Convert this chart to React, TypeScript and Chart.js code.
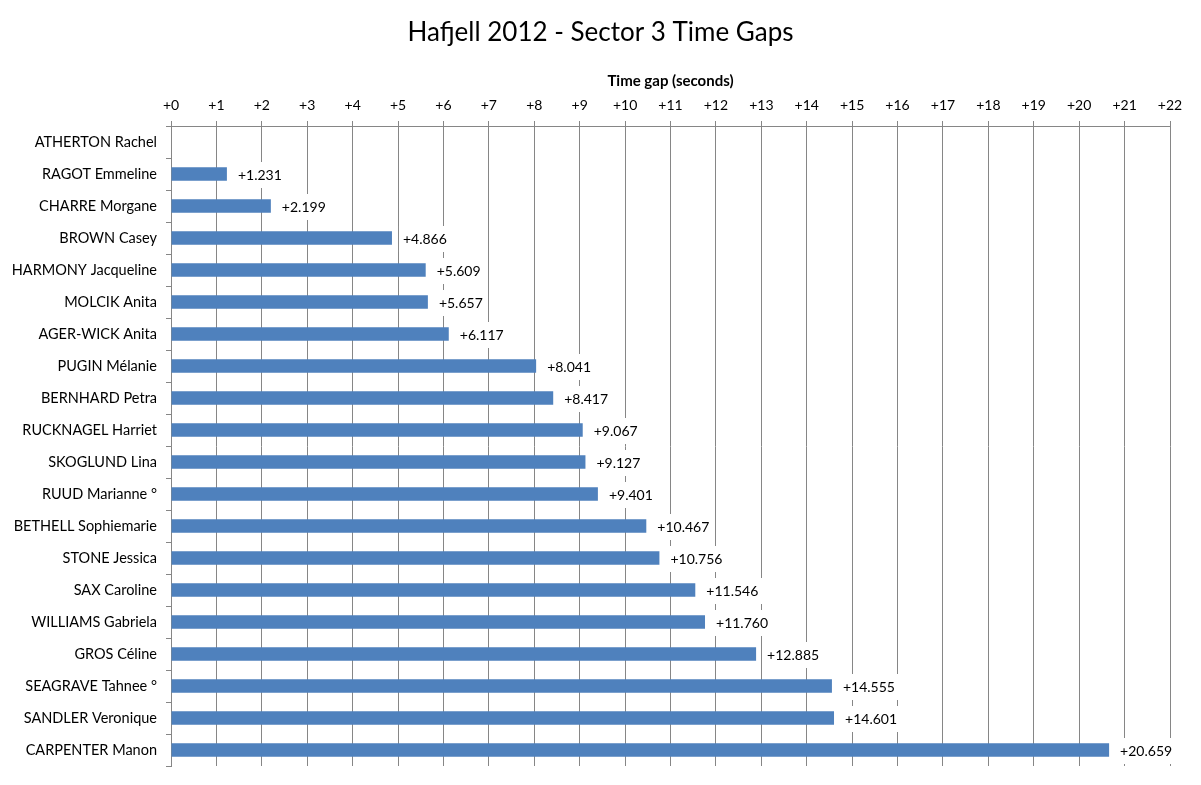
import React, { useEffect, useRef } from "react";
import { Chart, registerables } from "chart.js";

Chart.register(...registerables);

const riders: string[] = [
  "ATHERTON Rachel",
  "RAGOT Emmeline",
  "CHARRE Morgane",
  "BROWN Casey",
  "HARMONY Jacqueline",
  "MOLCIK Anita",
  "AGER-WICK Anita",
  "PUGIN Mélanie",
  "BERNHARD Petra",
  "RUCKNAGEL Harriet",
  "SKOGLUND Lina",
  "RUUD Marianne °",
  "BETHELL Sophiemarie",
  "STONE Jessica",
  "SAX Caroline",
  "WILLIAMS Gabriela",
  "GROS Céline",
  "SEAGRAVE Tahnee °",
  "SANDLER Veronique",
  "CARPENTER Manon",
];

const gaps: number[] = [
  0, 1.231, 2.199, 4.866, 5.609, 5.657, 6.117, 8.041, 8.417, 9.067, 9.127,
  9.401, 10.467, 10.756, 11.546, 11.76, 12.885, 14.555, 14.601, 20.659,
];

const TITLE = "Hafjell 2012 - Sector 3 Time Gaps";
const AXIS_TITLE = "Time gap (seconds)";
const FONT = "Lato, 'Open Sans', sans-serif";

const labelPlugin = {
  id: "barLabels",
  afterDatasetsDraw(chart: any) {
    const ctx = chart.ctx;
    const meta = chart.getDatasetMeta(0);
    ctx.save();
    ctx.font = `14px ${FONT}`;
    ctx.textBaseline = "middle";
    ctx.textAlign = "left";
    meta.data.forEach((bar: any, i: number) => {
      const v = gaps[i];
      if (!v) return;
      const txt = "+" + v.toFixed(3);
      const x = bar.x + 11;
      const y = bar.y + 1;
      const w = ctx.measureText(txt).width;
      ctx.fillStyle = "#ffffff";
      ctx.fillRect(x - 4, y - 13, w + 8, 26);
      ctx.fillStyle = "#000000";
      ctx.fillText(txt, x, y);
    });
    ctx.restore();
  },
};

const titlePlugin = {
  id: "mainTitle",
  afterDraw(chart: any) {
    const ctx = chart.ctx;
    ctx.save();
    ctx.font = `26px ${FONT}`;
    ctx.fillStyle = "#000000";
    ctx.textAlign = "center";
    ctx.textBaseline = "middle";
    ctx.fillText(TITLE, chart.width / 2, 33);
    ctx.restore();
  },
};

export default function App() {
  const ref = useRef<HTMLCanvasElement | null>(null);
  useEffect(() => {
    if (!ref.current) return;
    const chart = new Chart(ref.current, {
      type: "bar",
      data: {
        labels: riders,
        datasets: [
          {
            data: gaps,
            backgroundColor: "#4f81bd",
            borderWidth: 0,
            barPercentage: 0.42,
            categoryPercentage: 1,
          },
        ],
      },
      options: {
        indexAxis: "y",
        responsive: false,
        animation: false,
        layout: { padding: { left: 0, top: 0, right: 31, bottom: 19 } },
        plugins: {
          legend: { display: false },
          title: { display: false },
          tooltip: { enabled: false },
        },
        scales: {
          x: {
            position: "top",
            min: 0,
            max: 22,
            afterFit: (s: any) => {
              s.height = 126;
            },
            ticks: {
              stepSize: 1,
              autoSkip: false,
              maxRotation: 0,
              padding: 7,
              color: "#000000",
              font: { family: FONT, size: 14 },
              callback: (v: any) => "+" + v,
            },
            grid: {
              color: "#868686",
              lineWidth: 1,
              tickLength: 5,
              drawOnChartArea: true,
            },
            border: { color: "#868686", width: 1 },
            title: {
              display: true,
              text: AXIS_TITLE,
              color: "#000000",
              font: { family: FONT, size: 15, weight: "bold" },
              padding: { top: 72, bottom: 0 },
            },
          },
          y: {
            afterFit: (s: any) => {
              s.width = 171;
            },
            ticks: {
              autoSkip: false,
              padding: 9,
              color: "#000000",
              font: { family: FONT, size: 14.5 },
            },
            grid: {
              drawOnChartArea: false,
              drawTicks: true,
              tickLength: 5,
              color: "#868686",
              offset: true,
            },
            border: { color: "#868686", width: 1 },
          },
        },
      } as any,
      plugins: [labelPlugin, titlePlugin],
    });
    return () => chart.destroy();
  }, []);
  return (
    <div style={{ position: "absolute", left: 0, top: 0, width: 1201, height: 785, background: "#fff" }}>
      <canvas ref={ref} width={1201} height={785} style={{ width: 1201, height: 785 }} />
    </div>
  );
}
